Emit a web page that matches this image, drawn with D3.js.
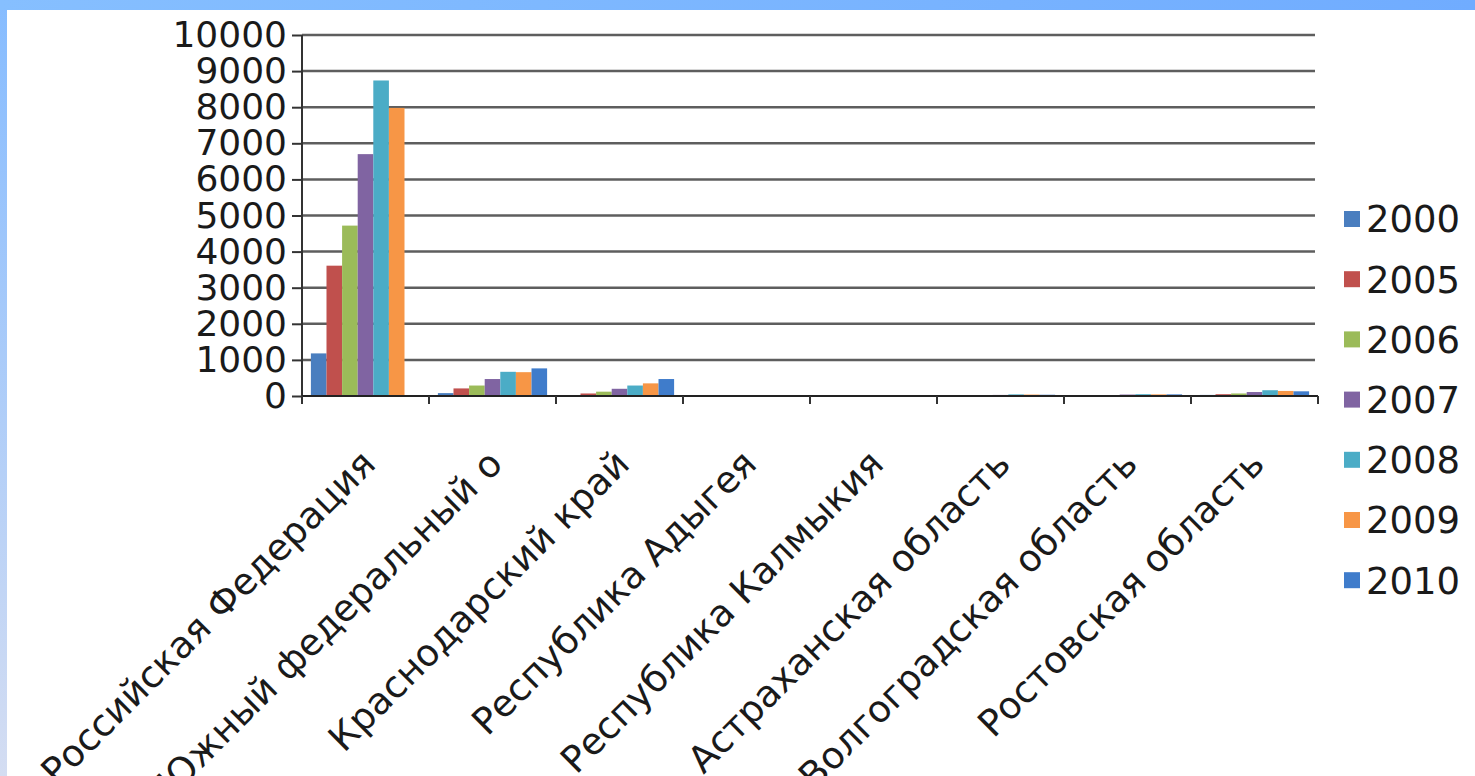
<!DOCTYPE html>
<html>
<head>
<meta charset="utf-8">
<script src="https://cdn.jsdelivr.net/npm/d3@7"></script>
<style>
  html, body { margin: 0; padding: 0; background: #fff; }
  svg { display: block; }
  text { font-family: "DejaVu Sans", sans-serif; fill: #1a1a1a; }
</style>
</head>
<body>
<script>
var categories = [
  'Российская Федерация',
  'Южный федеральный о',
  'Краснодарский край',
  'Республика Адыгея',
  'Республика Калмыкия',
  'Астраханская область',
  'Волгоградская область',
  'Ростовская область'
];
var years = ['2000', '2005', '2006', '2007', '2008', '2009', '2010'];
var colors = ['#4a7ebf', '#c0504d', '#9bbb59', '#8064a2', '#4bacc6', '#f79646', '#3f7ccb'];

// values per year, in category order
var v2000 = [1180, 80, 20, 2, 1, 5, 10, 30];
var v2005 = [3610, 210, 70, 4, 2, 10, 20, 50];
var v2006 = [4720, 290, 120, 5, 2, 15, 25, 70];
var v2007 = [6700, 470, 200, 6, 3, 30, 40, 110];
var v2008 = [8740, 670, 290, 8, 4, 45, 50, 160];
var v2009 = [7980, 660, 350, 8, 4, 40, 45, 140];
var v2010 = [0, 765, 470, 8, 4, 35, 45, 130];
var yTicks = [0, 1000, 2000, 3000, 4000, 5000, 6000, 7000, 8000, 9000, 10000];

(function() {
  var width = 1475;
  var height = 776;
  var left = 302;
  var right = 1318;
  var top = 35;
  var bottom = 396;
  var series = [v2000, v2005, v2006, v2007, v2008, v2009, v2010];

  var svg = d3.select('body')
    .append('svg')
    .attr('width', width)
    .attr('height', height);

  // frame background
  var defs = svg.append('defs');
  var grad = defs.append('linearGradient')
    .attr('id', 'side')
    .attr('x1', 0).attr('y1', 0).attr('x2', 0).attr('y2', 1);
  grad.append('stop').attr('offset', '0%').attr('stop-color', '#86bcff');
  grad.append('stop').attr('offset', '100%').attr('stop-color', '#d4ddf2');
  var topGrad = defs.append('linearGradient')
    .attr('id', 'topband')
    .attr('x1', 0).attr('y1', 0).attr('x2', 1).attr('y2', 0);
  topGrad.append('stop').attr('offset', '0%').attr('stop-color', '#86bfff');
  topGrad.append('stop').attr('offset', '100%').attr('stop-color', '#70acff');

  svg.append('rect').attr('x', 0).attr('y', 0).attr('width', 7).attr('height', height).attr('fill', 'url(#side)');
  svg.append('rect').attr('x', 0).attr('y', 0).attr('width', width).attr('height', 10).attr('fill', 'url(#topband)');

  var x0 = d3.scaleBand()
    .domain(categories)
    .range([left, right])
    .paddingInner(0)
    .paddingOuter(0);

  var x1 = d3.scaleBand()
    .domain(years)
    .range([0, x0.bandwidth()])
    .paddingInner(0)
    .paddingOuter(0.57);

  var y = d3.scaleLinear()
    .domain([0, 10000])
    .range([bottom, top]);

  // gridlines
  svg.append('g')
    .selectAll('line')
    .data(yTicks.slice(1))
    .enter()
    .append('line')
    .attr('x1', left)
    .attr('x2', right - 3)
    .attr('y1', d => y(d))
    .attr('y2', d => y(d))
    .attr('stroke', '#5e5e5e')
    .attr('stroke-width', 2.5);

  // bars
  years.forEach(function(yr, i) {
    svg.append('g')
      .selectAll('rect')
      .data(series[i])
      .enter()
      .append('rect')
      .attr('x', (d, j) => x0(categories[j]) + x1(yr))
      .attr('y', d => y(d))
      .attr('width', x1.bandwidth())
      .attr('height', d => bottom - y(d))
      .attr('fill', colors[i]);
  });

  // y axis
  var yAxis = d3.axisLeft(y)
    .tickValues(yTicks)
    .tickSize(10)
    .tickPadding(5)
    .tickFormat(d3.format('d'));
  var gy = svg.append('g')
    .attr('transform', `translate(${left}, 0)`)
    .call(yAxis);
  gy.select('.domain').attr('stroke', '#333').attr('stroke-width', 2).attr('d', `M0,${top}V${bottom + 8}`);
  gy.selectAll('.tick line').attr('stroke', '#333').attr('stroke-width', 2);
  gy.selectAll('.tick text')
    .style('font-size', '36px')
    .attr('fill', '#1a1a1a');

  // x axis
  var xAxis = d3.axisBottom(x0).tickSize(0).tickFormat('');
  var gx = svg.append('g')
    .attr('transform', `translate(0, ${bottom})`)
    .call(xAxis);
  gx.select('.domain').attr('stroke', '#222').attr('stroke-width', 2).attr('d', `M${left},0H${right}`);
  gx.append('g')
    .selectAll('line')
    .data(categories.map((c, i) => left + i * x0.step()).concat([right]))
    .enter()
    .append('line')
    .attr('x1', d => d)
    .attr('x2', d => d)
    .attr('y1', 0)
    .attr('y2', 8)
    .attr('stroke', '#333')
    .attr('stroke-width', 2);

  // category labels
  svg.append('g')
    .selectAll('text')
    .data(categories)
    .enter()
    .append('text')
    .attr('transform', d => `translate(${x0(d) + x0.bandwidth() / 2 + 12}, 466) rotate(-45)`)
    .attr('text-anchor', 'end')
    .style('font-size', '37px')
    .text(d => d);

  // legend
  var legend = svg.append('g')
    .selectAll('g')
    .data(years)
    .enter()
    .append('g')
    .attr('transform', (d, i) => `translate(1344, ${219 + i * 60.2})`);
  legend.append('rect')
    .attr('x', 0)
    .attr('y', -8)
    .attr('width', 16)
    .attr('height', 16)
    .attr('fill', (d, i) => colors[i]);
  legend.append('text')
    .attr('x', 22)
    .attr('y', 0)
    .attr('dy', '0.36em')
    .style('font-size', '37px')
    .text(d => d);
})();
</script>
</body>
</html>
